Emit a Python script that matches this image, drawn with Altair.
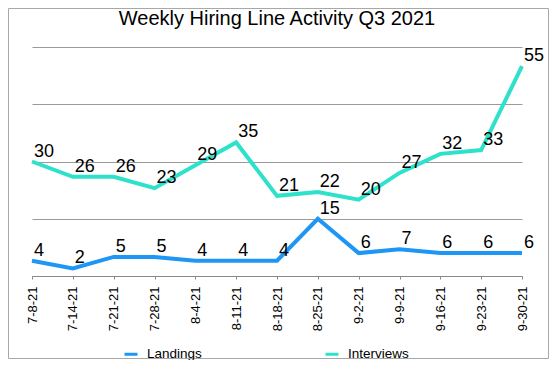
import altair as alt
import pandas as pd

dates = ["7-8-21", "7-14-21", "7-21-21", "7-28-21", "8-4-21", "8-11-21", "8-18-21",
         "8-25-21", "9-2-21", "9-9-21", "9-16-21", "9-23-21", "9-30-21"]
landings = [4, 2, 5, 5, 4, 4, 4, 15, 6, 7, 6, 6, 6]
interviews = [30, 26, 26, 23, 29, 35, 21, 22, 20, 27, 32, 33, 55]
series_names = ["Landings", "Interviews"]
series_colors = ["#1E96F5", "#2DE1CB"]
y_ticks = [0, 15, 30, 45, 60]

rows = []
for name, vals in zip(series_names, [landings, interviews]):
    for d, v in zip(dates, vals):
        rows.append({"date": d, "series": name, "value": v})
df = pd.DataFrame(rows)

FONT = "Liberation Sans"

x_enc = alt.X("date:N", sort=dates, scale=alt.Scale(type="point", padding=0),
              axis=alt.Axis(title=None, labelAngle=270, labelAlign="right",
                            labelBaseline="middle", labelFont=FONT, labelFontSize=13,
                            labelColor="black", labelPadding=7, tickSize=3,
                            tickColor="#8a8a8a", domainColor="#8a8a8a", grid=False))
y_enc = alt.Y("value:Q", scale=alt.Scale(domain=[0, 60], nice=False, zero=True),
              axis=alt.Axis(title=None, labels=False, ticks=False, domain=False,
                            grid=True, gridColor="#9a9a9a", gridWidth=1, values=y_ticks))
color_enc = alt.Color("series:N", sort=series_names,
                      scale=alt.Scale(domain=series_names, range=series_colors),
                      legend=alt.Legend(title=None, orient="none", legendX=91, legendY=299,
                                        direction="horizontal", symbolType="stroke",
                                        symbolSize=169, symbolStrokeWidth=3,
                                        labelFont=FONT, labelFontSize=13.5, labelColor="black",
                                        labelOffset=8, columnPadding=117))

base = alt.Chart(df)
lines = base.mark_line(strokeWidth=4).encode(x=x_enc, y=y_enc, color=color_enc,
                                             detail="series:N")
labels = base.mark_text(align="left", baseline="alphabetic", dx=2, dy=-5,
                        font=FONT, fontSize=18, color="black").encode(
    x=alt.X("date:N", sort=dates), y="value:Q", text="value:Q")

border = alt.Chart(pd.DataFrame({"b": [0]})).mark_rect(
    fill="transparent", stroke="#a8a8a8", strokeWidth=1).encode(
    x=alt.value(-23.5), x2=alt.value(516.5), y=alt.value(-38.5), y2=alt.value(311.5))

chart = alt.layer(lines, labels, border).properties(
    width=490, height=229,
    padding={"left": 24, "top": 39, "right": 28, "bottom": 84},
    autosize=alt.AutoSizeParams(type="none"),
    background="white",
    title=alt.Title("Weekly Hiring Line Activity Q3 2021", font=FONT, fontSize=20,
                    fontWeight="normal", color="black", anchor="middle",
                    frame="group", baseline="alphabetic", offset=-37),
).configure_view(strokeWidth=0)

chart.save("out.html", embed_options={"renderer": "svg", "actions": False})
